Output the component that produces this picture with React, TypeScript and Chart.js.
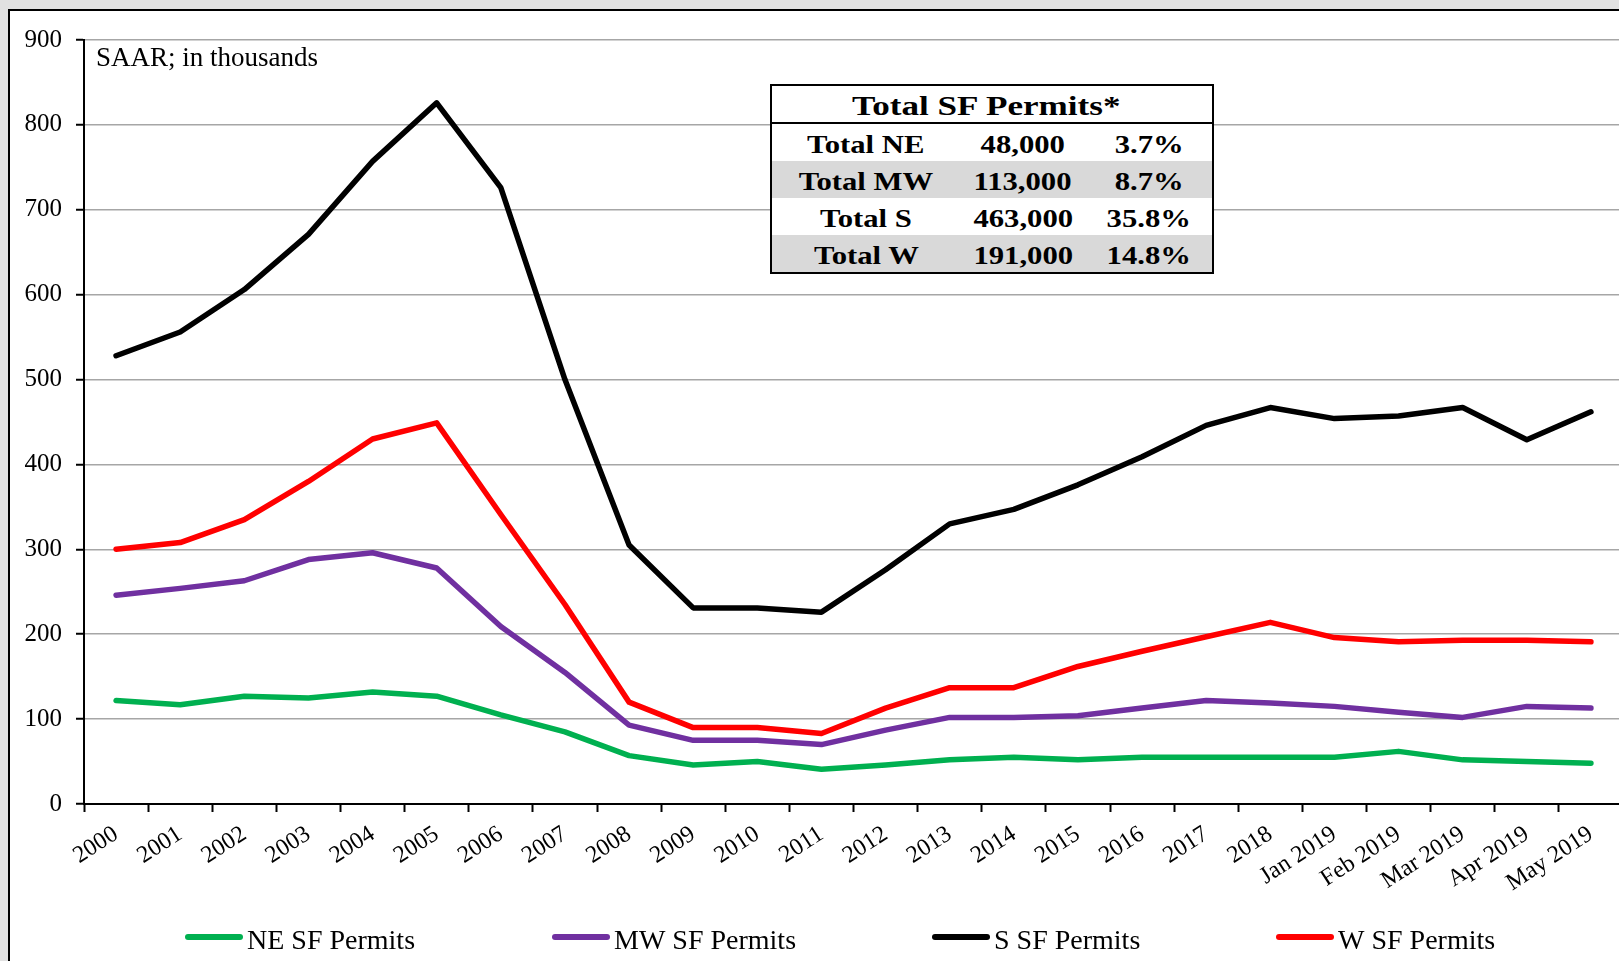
import React, { useEffect, useRef } from 'react';
import { Chart, registerables } from 'chart.js';

Chart.register(...registerables);

// ---------- data ----------
const categories = [
  '2000', '2001', '2002', '2003', '2004', '2005', '2006', '2007', '2008', '2009',
  '2010', '2011', '2012', '2013', '2014', '2015', '2016', '2017', '2018',
  'Jan 2019', 'Feb 2019', 'Mar 2019', 'Apr 2019', 'May 2019',
];
const seriesNames = ['NE SF Permits', 'MW SF Permits', 'S SF Permits', 'W SF Permits'];
const neValues = [122, 117, 127, 125, 132, 127, 105, 85, 57, 46, 50, 41, 46, 52, 55, 52, 55, 55, 55, 55, 62, 52, 50, 48];
const mwValues = [246, 254, 263, 288, 296, 278, 209, 155, 93, 75, 75, 70, 87, 102, 102, 104, 113, 122, 119, 115, 108, 102, 115, 113];
const sValues = [528, 556, 606, 671, 757, 826, 726, 500, 305, 231, 231, 226, 276, 330, 347, 376, 409, 446, 467, 454, 457, 467, 429, 462];
const wValues = [300, 308, 335, 380, 430, 449, 341, 235, 120, 90, 90, 83, 113, 137, 137, 162, 180, 197, 214, 196, 191, 193, 193, 191];
const yMin = 0;
const yMax = 900;
const yStep = 100;
const noteText = 'SAAR; in thousands';
const tableTitle = 'Total SF Permits*';
const tableRegions = ['Total NE', 'Total MW', 'Total S', 'Total W'];
const tableTotals = ['48,000', '113,000', '463,000', '191,000'];
const tableShares = ['3.7%', '8.7%', '35.8%', '14.8%'];

// ---------- styles ----------
const seriesColors = ['#00B050', '#7030A0', '#000000', '#FF0000'];
const serif = '"Liberation Serif", "Times New Roman", serif';
const legendStarts = [175, 542, 922, 1266];

const overlayPlugin = {
  id: 'overlay',
  afterDraw(chart: any) {
    const ctx = chart.ctx as CanvasRenderingContext2D;
    const a = chart.chartArea;
    ctx.save();
    ctx.fillStyle = '#000';
    ctx.textBaseline = 'alphabetic';
    ctx.textAlign = 'left';
    ctx.font = `27px ${serif}`;
    ctx.fillText(noteText, a.left + 12, a.top + 26);
    chart.data.datasets.forEach((ds: any, i: number) => {
      const x = legendStarts[i];
      ctx.strokeStyle = ds.borderColor;
      ctx.lineWidth = 6;
      ctx.lineCap = 'round';
      ctx.beginPath();
      ctx.moveTo(x + 3, 926);
      ctx.lineTo(x + 55, 926);
      ctx.stroke();
      ctx.font = `28px ${serif}`;
      ctx.fillStyle = '#000';
      ctx.fillText(ds.label, x + 62, 938);
    });
    ctx.restore();
  },
};

export default function App() {
  const ref = useRef<HTMLCanvasElement>(null);

  useEffect(() => {
    const seriesData = [neValues, mwValues, sValues, wValues];
    const chart = new Chart(ref.current!, {
      type: 'line',
      data: {
        labels: categories,
        datasets: seriesNames.map((name, i) => ({
          label: name,
          data: seriesData[i],
          borderColor: seriesColors[i],
          backgroundColor: seriesColors[i],
          borderWidth: 5.5,
          pointRadius: 0,
          pointHoverRadius: 0,
          tension: 0,
          borderCapStyle: 'round',
          borderJoinStyle: 'round',
          fill: false,
        })),
      },
      options: {
        responsive: false,
        animation: false,
        devicePixelRatio: 1,
        layout: { padding: { left: 0, top: 23, right: 27, bottom: 47 } },
        plugins: {
          legend: { display: false },
          tooltip: { enabled: false },
        },
        scales: {
          x: {
            type: 'category',
            offset: true,
            grid: {
              offset: true,
              drawOnChartArea: false,
              drawTicks: true,
              tickLength: 8,
              tickColor: '#000',
              tickWidth: 2,
            },
            border: { display: true, color: '#000', width: 2 },
            ticks: {
              autoSkip: false,
              maxRotation: 33,
              minRotation: 33,
              padding: 8,
              color: '#000',
              font: { family: serif, size: 24 },
            },
            afterFit: (s: any) => { s.height = 110; },
          },
          y: {
            min: yMin,
            max: yMax,
            ticks: {
              stepSize: yStep,
              padding: 14,
              color: '#000',
              font: { family: serif, size: 25 },
            },
            grid: {
              color: '#a6a6a6',
              lineWidth: 1.5,
              tickLength: 8,
              tickColor: '#000',
              tickWidth: 2,
            },
            border: { display: true, color: '#000', width: 2 },
            afterFit: (s: any) => { s.width = 74; },
          },
        },
      },
      plugins: [overlayPlugin],
    } as any);
    return () => chart.destroy();
  }, []);

  const cellBase: React.CSSProperties = {
    textAlign: 'center',
    position: 'relative',
    top: 2,
    lineHeight: '37px',
    whiteSpace: 'nowrap',
    display: 'flex',
    justifyContent: 'center',
  };
  const wide: React.CSSProperties = { display: 'inline-block', transform: 'scaleX(1.18)' };

  return (
    <div style={{ position: 'fixed', left: 0, top: 0, width: 1619, height: 961, overflow: 'hidden', background: '#e1e1e1' }}>
      <div style={{ position: 'absolute', left: 8, top: 9, width: 1700, height: 1000, border: '2px solid #000', background: '#fff' }}>
        <canvas ref={ref} width={1640} height={950} style={{ position: 'absolute', left: 0, top: 0, display: 'block' }} />
        <div
          style={{
            position: 'absolute', left: 760, top: 73, width: 444, boxSizing: 'border-box',
            border: '2px solid #000', background: '#fff', fontFamily: serif, fontWeight: 'bold', color: '#000',
          }}
        >
          <div style={{ height: 36, borderBottom: '2px solid #000', overflow: 'hidden' }}>
            <div style={{ display: 'flex', justifyContent: 'center', fontSize: 27, lineHeight: '36px', position: 'relative', top: 2, left: -6, whiteSpace: 'nowrap' }}>
              <span style={{ display: 'inline-block', transform: 'scaleX(1.3)' }}>{tableTitle}</span>
            </div>
          </div>
          {tableRegions.map((r, i) => (
            <div key={r} style={{ display: 'flex', height: 37, background: i % 2 === 1 ? '#d9d9d9' : '#fff', fontSize: 26 }}>
              <div style={{ ...cellBase, width: 188 }}><span style={wide}>{r}</span></div>
              <div style={{ ...cellBase, width: 126 }}><span style={wide}>{tableTotals[i]}</span></div>
              <div style={{ ...cellBase, width: 126 }}><span style={wide}>{tableShares[i]}</span></div>
            </div>
          ))}
        </div>
      </div>
    </div>
  );
}
